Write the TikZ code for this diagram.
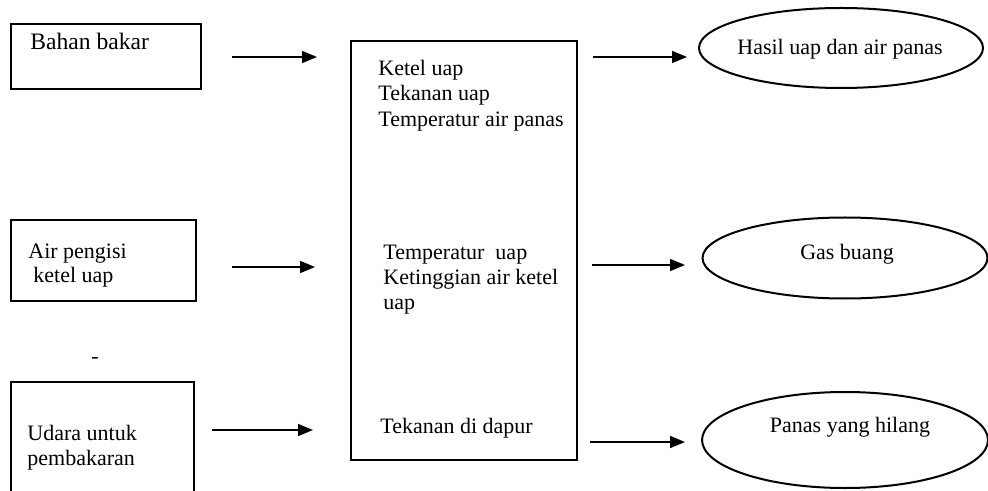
\documentclass[tikz,border=0pt]{standalone}
\usepackage{fontspec}
\setmainfont{Liberation Serif}
\usetikzlibrary{arrows.meta,shapes.geometric}
\begin{document}
\begin{tikzpicture}[x=0.5pt,y=-0.5pt,
  box/.style={draw,line width=1pt,inner sep=0pt,anchor=north west},
  oval/.style={draw,ellipse,line width=1pt,inner sep=0pt},
  txt/.style={anchor=base west,inner sep=0pt,font=\fontsize{11}{12.5}\selectfont},
  ctxt/.style={anchor=base,inner sep=0pt,font=\fontsize{11}{12.5}\selectfont},
  flow/.style={line width=0.8pt,-{Triangle[length=7.5pt,width=6pt]}}]
\useasboundingbox (0,0) rectangle (988,491);
\clip (0,0) rectangle (988,491);
% boxes
\node[box,minimum width=95pt,minimum height=32.5pt] (b1) at (10,23) {};
\node[box,minimum width=92.5pt,minimum height=40.5pt] (b2) at (10,219) {};
\node[box,minimum width=91.5pt,minimum height=65pt] (b3) at (10,381) {};
\node[box,minimum width=113pt,minimum height=209.5pt] (mid) at (350,40) {};
% ellipses
\node[oval,minimum width=142pt,minimum height=40pt] (e1) at (841,48) {};
\node[oval,minimum width=142.5pt,minimum height=40.5pt] (e2) at (845,258) {};
\node[oval,minimum width=143pt,minimum height=48pt] (e3) at (845,440) {};
% texts
\node[txt,font=\fontsize{11.8}{12.5}\selectfont] (t1) at (30,50) {Bahan bakar};
\node[txt] (m1) at (378,76) {Ketel uap};
\node[txt] (m2) at (378,101) {Tekanan uap};
\node[txt] (m3) at (378,127) {Temperatur air panas};
\node[ctxt] (r1) at (840,55) {Hasil uap dan air panas};
\node[txt] (t2a) at (28,258) {Air pengisi};
\node[txt] (t2b) at (33,283) {ketel uap};
\node[txt] (m4) at (383,260) {Temperatur\ \ uap};
\node[txt] (m5) at (383,285) {Ketinggian air ketel};
\node[txt] (m6) at (383,309) {uap};
\node[ctxt] (r2) at (847,260) {Gas buang};
\node[txt] (t3a) at (27,440) {Udara untuk};
\node[txt] (t3b) at (27,465) {pembakaran};
\node[txt] (m7) at (380,433) {Tekanan di dapur};
\node[ctxt] (r3) at (850,432) {Panas yang hilang};
\node[inner sep=0pt,font=\fontsize{11}{12.5}\selectfont] (dash) at (95,360) {-};
% arrow ends
\coordinate (a1s) at (232,57); \coordinate (a1e) at (317,57);
\coordinate (a2s) at (232,267); \coordinate (a2e) at (315,267);
\coordinate (a3s) at (212,430); \coordinate (a3e) at (313,430);
\coordinate (o1s) at (593,57); \coordinate (o1e) at (687,57);
\coordinate (o2s) at (592,265); \coordinate (o2e) at (685,265);
\coordinate (o3s) at (590,442); \coordinate (o3e) at (685,442);
\draw[flow] (a1s) -- (a1e);
\draw[flow] (a2s) -- (a2e);
\draw[flow] (a3s) -- (a3e);
\draw[flow] (o1s) -- (o1e);
\draw[flow] (o2s) -- (o2e);
\draw[flow] (o3s) -- (o3e);
\end{tikzpicture}
\end{document}
